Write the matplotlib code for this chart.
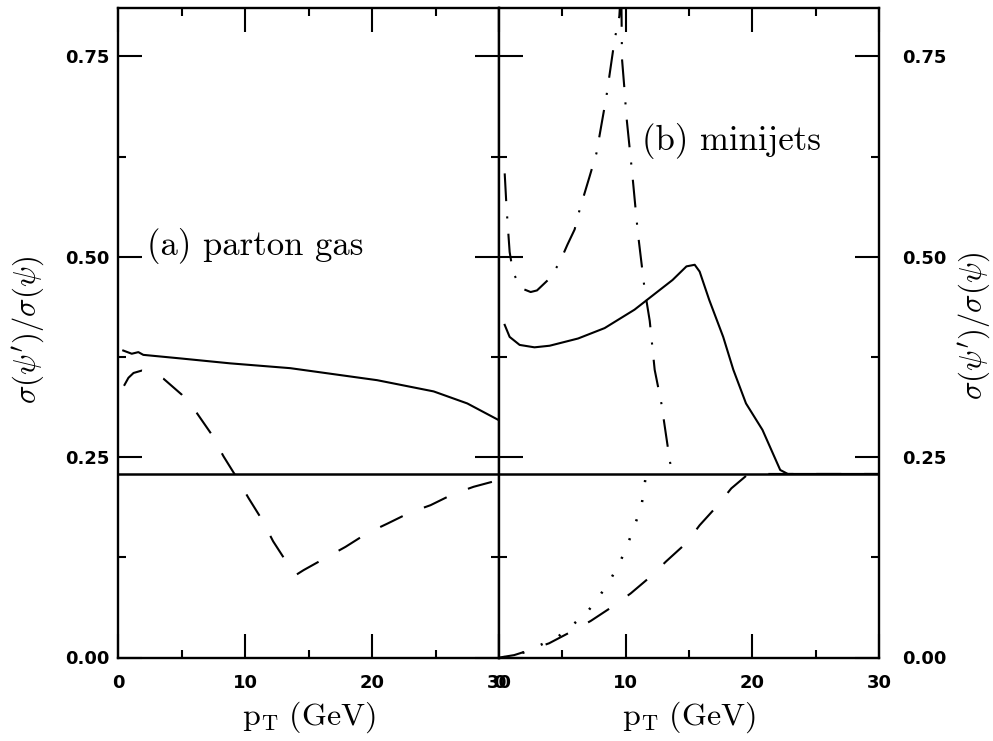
import matplotlib
matplotlib.use("Agg")
import matplotlib.pyplot as plt
from matplotlib.ticker import MultipleLocator

plt.rcParams['mathtext.fontset'] = 'cm'
plt.rcParams['lines.scale_dashes'] = False
plt.rcParams['axes.unicode_minus'] = False
plt.rcParams['font.family'] = 'DejaVu Sans'
plt.rcParams['font.weight'] = 'bold'

# ---------------- data ----------------
# (a) parton gas
a_solid_x = [0.39, 1.06, 1.58, 1.97, 5.0, 8.82, 13.55, 20.4, 24.85, 27.5, 30.0]
a_solid_y = [0.383, 0.379, 0.381, 0.3776, 0.373, 0.367, 0.361, 0.346, 0.332, 0.317, 0.296]

a_dash_x = [0.45, 0.8, 1.2, 1.85, 2.6, 3.55, 5.0, 6.19, 7.37, 8.29, 9.35, 10.26, 11.32,
            12.2, 13.3, 14.0, 14.6, 16.3, 17.9, 19.6, 21.2, 23.0, 24.6, 26.4, 28.0, 30.0]
a_dash_y = [0.339, 0.349, 0.355, 0.358, 0.356, 0.348, 0.328, 0.305, 0.278, 0.251, 0.224,
            0.199, 0.172, 0.145, 0.118, 0.103, 0.109, 0.124, 0.138, 0.155, 0.167, 0.181,
            0.190, 0.204, 0.213, 0.2215]

# (b) minijets
b_solid_x = [0.45, 0.84, 1.63, 2.8, 4.0, 6.24, 8.34, 10.7, 12.4, 13.7, 14.8, 15.45,
             15.84, 16.6, 17.7, 18.5, 19.5, 20.8, 22.2, 22.8, 30.0]
b_solid_y = [0.415, 0.400, 0.390, 0.387, 0.389, 0.398, 0.411, 0.434, 0.455, 0.471, 0.488,
             0.490, 0.4815, 0.446, 0.400, 0.359, 0.317, 0.284, 0.234, 0.229, 0.229]

b_dashdot_x = [0.45, 0.6, 0.84, 1.1, 1.71, 2.5, 3.0, 4.0, 4.79, 5.4, 5.97, 6.37, 7.15,
               7.69, 8.48, 9.13, 9.5, 9.65, 9.71, 9.9, 10.06, 10.53, 10.84, 10.97, 11.5,
               11.9, 12.29, 12.82, 13.2, 13.5, 13.7]
b_dashdot_y = [0.604, 0.56, 0.506, 0.481, 0.461, 0.456, 0.458, 0.473, 0.493, 0.515, 0.534,
               0.559, 0.600, 0.629, 0.700, 0.771, 0.80, 0.84, 0.747, 0.71, 0.675, 0.602,
               0.550, 0.529, 0.459, 0.42, 0.359, 0.317, 0.276, 0.244, 0.229]

b_dot_x = [0.3, 1.5, 2.5, 3.27, 4.66, 5.84, 6.98, 7.95, 8.79, 9.53, 10.18, 10.71, 11.24, 11.55]
b_dot_y = [0.0, 0.004, 0.009, 0.0156, 0.026, 0.041, 0.057, 0.077, 0.097, 0.118, 0.142,
           0.165, 0.188, 0.222]

b_dash_x = [0.05, 1.2, 2.29, 3.95, 5.7, 7.24, 8.95, 10.4, 11.97, 13.2, 14.8, 15.84,
            17.16, 18.34, 19.5, 19.8, 30.0]
b_dash_y = [0.0, 0.003, 0.0085, 0.0177, 0.0322, 0.0456, 0.0634, 0.080, 0.101, 0.120,
            0.143, 0.165, 0.188, 0.211, 0.2265, 0.229, 0.229]

ref_level = 0.229

x_ticks = [0, 10, 20, 30]
y_ticks = [0.0, 0.25, 0.50, 0.75]
y_tick_labels = ["0.00", "0.25", "0.50", "0.75"]

# ---------------- figure ----------------
W, H = 993, 741
fig = plt.figure(figsize=(W / 100, H / 100), dpi=100)

x_left, x_mid, x_right = 118.3, 499.0, 879.0
y_bot, y_top = 657.5, 8.3
bottom = 1 - y_bot / H
height = (y_bot - y_top) / H
ax1 = fig.add_axes([x_left / W, bottom, (x_mid - x_left) / W, height])
ax2 = fig.add_axes([x_mid / W, bottom, (x_right - x_mid) / W, height])

lw = 1.5
dash = (0, (18, 16.5))
dashdot = (0, (20, 11, 1.5, 11))
dotted = (0, (1.5, 13))

ax1.plot(a_solid_x, a_solid_y, color='black', lw=lw, solid_joinstyle='round')
ax1.plot(a_dash_x, a_dash_y, color='black', lw=lw, linestyle=dash)
ax1.axhline(ref_level, color='black', lw=1.8)

ax2.plot(b_solid_x, b_solid_y, color='black', lw=lw, solid_joinstyle='round')
ax2.plot(b_dashdot_x, b_dashdot_y, color='black', lw=lw, linestyle=dashdot)
ax2.plot(b_dot_x, b_dot_y, color='black', lw=lw + 0.3, linestyle=dotted)
ax2.plot(b_dash_x, b_dash_y, color='black', lw=lw, linestyle=dash)
ax2.axhline(ref_level, color='black', lw=1.8)

for ax in (ax1, ax2):
    ax.set_xlim(0, 30)
    ax.set_ylim(0, 0.81)
    ax.set_xticks(x_ticks)
    ax.set_xticklabels([str(v) for v in x_ticks])
    ax.xaxis.set_minor_locator(MultipleLocator(5))
    ax.set_yticks(y_ticks)
    ax.set_yticklabels(y_tick_labels)
    ax.yaxis.set_minor_locator(MultipleLocator(0.125))
    ax.tick_params(which='both', direction='in', top=True, bottom=True,
                   left=True, right=True, width=1.5, color='black')
    ax.tick_params(which='major', length=17.3)
    ax.tick_params(which='minor', length=6)
    ax.tick_params(axis='x', which='major', pad=12, labelsize=13)
    ax.tick_params(axis='y', which='major', labelsize=13)
    for sp in ax.spines.values():
        sp.set_linewidth(1.7)
    ax.text(0.5, (y_bot - 725) / (y_bot - y_top), r"$\mathrm{p_T\ (GeV)}$",
            transform=ax.transAxes, ha='center', va='baseline', fontsize=23)

ax1.tick_params(axis='y', labelleft=True, labelright=False, pad=6)
ax2.tick_params(axis='y', labelleft=False, labelright=True, pad=17)

for ax in (ax1, ax2):
    for t in ax.xaxis.get_major_ticks() + ax.yaxis.get_major_ticks():
        t.label1.set_fontweight('bold')
        t.label2.set_fontweight('bold')

ax1.text(0.075, 0.620, "(a) parton gas", transform=ax1.transAxes,
         ha='left', va='baseline', fontsize=25, family='cmr10', fontweight='normal')
ax2.text(0.376, 0.782, "(b) minijets", transform=ax2.transAxes,
         ha='left', va='baseline', fontsize=25, family='cmr10', fontweight='normal')

ylab = r"$\sigma(\psi')/\sigma(\psi)$"
fig.text(28 / W, 1 - 330 / H, ylab, rotation=90, ha='center', va='center', fontsize=22)
fig.text(974 / W, 1 - 326 / H, ylab, rotation=90, ha='center', va='center', fontsize=22)

fig.savefig("out.png", dpi=100)
